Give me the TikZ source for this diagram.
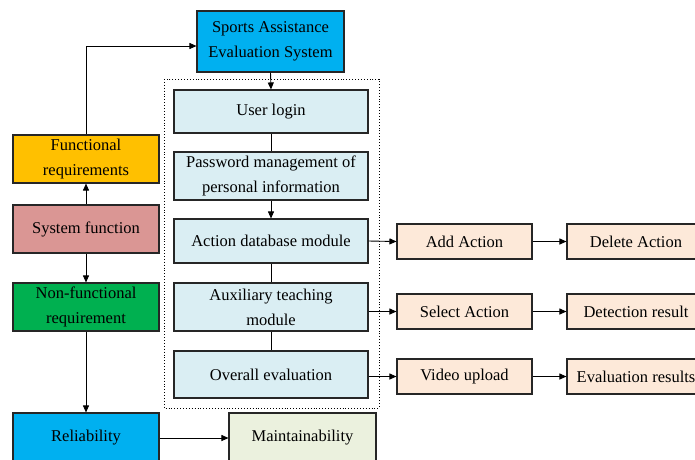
\documentclass[tikz,border=0pt]{standalone}
\usepackage{fontspec}
\setmainfont{Liberation Serif}
\usetikzlibrary{arrows.meta,calc}
\definecolor{cyanb}{HTML}{00B0F0}
\definecolor{gold}{HTML}{FFC000}
\definecolor{rose}{HTML}{DA9694}
\definecolor{grn}{HTML}{00B050}
\definecolor{mgreen}{HTML}{EBF1DE}
\definecolor{lblue}{HTML}{DAEEF3}
\definecolor{lorange}{HTML}{FDE9D9}
\definecolor{edge}{HTML}{262626}
\tikzset{
  box/.style={draw=edge,line width=1.1pt,align=center,inner sep=1pt,font=\fontsize{16.5}{25}\selectfont,text=black},
  arr/.style={line width=0.9pt,-{Triangle[length=7pt,width=6pt]}},
  ln/.style={line width=0.9pt},
}
\begin{document}
\begin{tikzpicture}[x=1pt,y=-1pt]
\useasboundingbox (0,0) rectangle (695,459);
\clip (0,0) rectangle (695,459);
\node[box,fill=cyanb,minimum width=147pt,minimum height=61pt] (sys) at (270.5,41.5) {Sports Assistance\\Evaluation System};
\draw[dotted,line width=0.9pt] (164,79) rectangle (379,408);
\node[box,fill=lblue,minimum width=194pt,minimum height=43pt] (login) at (271,111.5) {User login};
\node[box,fill=lblue,minimum width=194pt,minimum height=48pt] (pwd) at (271,176) {Password management of\\personal information};
\node[box,fill=lblue,minimum width=194pt,minimum height=44pt] (act) at (271,241) {Action database module};
\node[box,fill=lblue,minimum width=194pt,minimum height=48pt] (aux) at (271,307) {Auxiliary teaching\\module};
\node[box,fill=lblue,minimum width=194pt,minimum height=47pt] (ovr) at (271,374.5) {Overall evaluation};
\node[box,fill=gold,minimum width=146pt,minimum height=48pt] (func) at (86,159) {Functional\\requirements};
\node[box,fill=rose,minimum width=146pt,minimum height=48pt] (sfn) at (86,229) {System function};
\node[box,fill=grn,minimum width=146pt,minimum height=48pt] (nfn) at (86,307) {Non-functional\\requirement};
\node[box,fill=cyanb,minimum width=146pt,minimum height=50pt] (rel) at (86,438) {Reliability};
\node[box,fill=mgreen,minimum width=147pt,minimum height=50pt] (mnt) at (302.5,438) {Maintainability};
\node[box,fill=lorange,minimum width=135pt,minimum height=35pt] (add) at (464.5,241.5) {Add Action};
\node[box,fill=lorange,minimum width=138pt,minimum height=35pt] (del) at (636,241.5) {Delete Action};
\node[box,fill=lorange,minimum width=135pt,minimum height=35pt] (sel) at (464.5,311.5) {Select Action};
\node[box,fill=lorange,minimum width=138pt,minimum height=35pt] (det) at (636,311.5) {Detection result};
\node[box,fill=lorange,minimum width=135pt,minimum height=35pt] (vid) at (464.5,376.5) {Video upload};
\node[box,fill=lorange,minimum width=138pt,minimum height=35pt] (evr) at (636,376.5) {Evaluation results};
% connectors
\draw[arr] (func.north) |- ($(sys.west)+(0,4.5)$);
\draw[arr] (sys.south) -- (login.north);
\draw[ln] (login.south) -- (pwd.north);
\draw[arr] (pwd.south) -- (act.north);
\draw[ln] (act.south) -- (aux.north);
\draw[ln] (aux.south) -- (ovr.north);
\draw[arr] (sfn.north) -- (func.south);
\draw[arr] (sfn.south) -- (nfn.north);
\draw[arr] (nfn.south) -- (rel.north);
\draw[arr] (rel.east) -- (mnt.west);
\draw[arr] (act.east) -- (add.west);
\draw[arr] (sel.west -| aux.east) -- (sel.west);
\draw[arr] (vid.west -| ovr.east) -- (vid.west);
\draw[arr] (add.east) -- (del.west);
\draw[arr] (sel.east) -- (det.west);
\draw[arr] (vid.east) -- (evr.west);
\end{tikzpicture}
\end{document}
